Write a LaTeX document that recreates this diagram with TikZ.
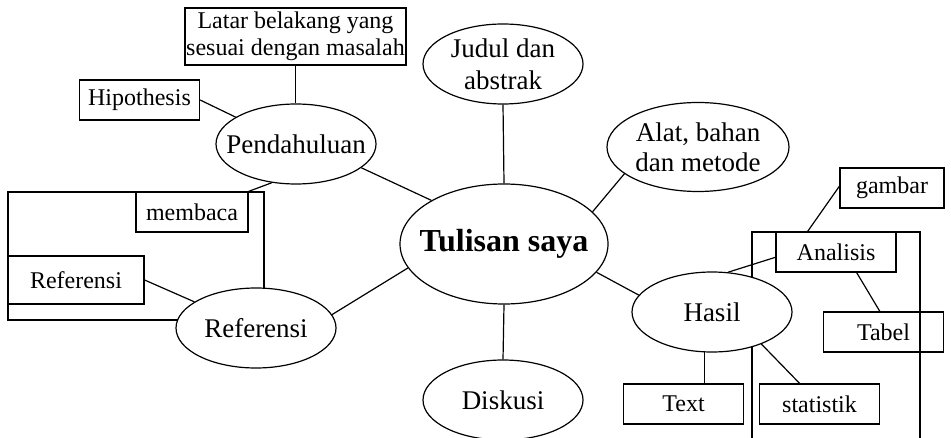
\documentclass[tikz,border=0pt]{standalone}
\usepackage{fontspec}
\setmainfont{Liberation Serif}
\usetikzlibrary{shapes.geometric}
\tikzset{
	topic/.style={draw, ellipse, fill=white, line width=0.6pt, inner xsep=-20pt, inner ysep=-10pt, minimum width=80pt, minimum height=40pt, align=center, font=\fontsize{13.5}{16}\selectfont},
	item/.style={draw, rectangle, line width=0.6pt, inner sep=0pt, minimum width=60pt, minimum height=20pt, align=center, font=\fontsize{12}{13.5}\selectfont},
	% open frames behind the nodes
	frame/.style={draw, line width=0.6pt},
}

\begin{document}
\begin{tikzpicture}[x=0.5pt, y=-0.5pt]
	\useasboundingbox (0,0) rectangle (951,438);
	
	\draw[frame] (8,192) rectangle (264,320);
	\draw[frame] (752,450) |- (920,232) -- (920,450);
	
	\node (tul) [topic, minimum width=104pt, minimum height=60pt, font=\fontsize{16}{18}\selectfont\bfseries] at (504,244) {Tulisan saya};
	
	\node (judul) [topic] at (503,64) {Judul dan\\abstrak};
	\node (alat) [topic, minimum width=91pt, minimum height=44.5pt, font=\fontsize{13.5}{15}\selectfont] at (698,147) {Alat, bahan\\dan metode};
	\node (pend) [topic] at (296,144) {Pendahuluan};
	\node (ref) [topic] at (256,328) {Referensi};
	\node (hasil) [topic] at (712,312) {Hasil};
	\node (disk) [topic] at (503,400) {Diskusi};
	
	\node (latar) [item, minimum width=110.5pt, minimum height=28.5pt] at (295.5,36.5) {Latar belakang yang\\sesuai dengan masalah};
	\node (hipo) [item] at (139.5,100) {Hipothesis};
	\node (baca) [item, minimum width=56pt] at (192,212) {membaca};
	\node (refbox) [item, minimum width=68pt, minimum height=24pt] at (76,280) {Referensi};
	
	\node (ana) [item] at (836,252) {Analisis};
	\node (gam) [item, minimum width=52pt] at (892,188) {gambar};
	\node (tab) [item] at (883.5,332) {Tabel};
	\node (txt) [item] at (683.5,404) {Text};
	\node (stat) [item] at (819.5,404) {statistik};
	
	\begin{scope}[line width=0.6pt]
		\draw (judul.south) -- (tul.north);
		\draw (alat.200) -- (tul.20);
		\draw (pend.340) -- (tul.149);
		\draw (ref.10) -- (tul.194);
		\draw (tul.343) -- (hasil.167);
		\draw (tul.south) -- (disk.north);
		
		\draw (latar.south) -- (latar.south |- pend.north);
		\draw (hipo.east) -- (pend.156);
		\draw (baca.north east) -- (pend.238);
		\draw (refbox.east) -- (ref.157);
		
		\draw (hasil.68) -- (ana.185);
		\draw (gam.178) -- (ana.144);
		\draw (ana.315) -- (tab.100);
		\draw (hasil.259) -- (hasil.259 |- txt.north);
		\draw (hasil.327) -- (stat.134);
	\end{scope}
	
\end{tikzpicture}
\end{document}
